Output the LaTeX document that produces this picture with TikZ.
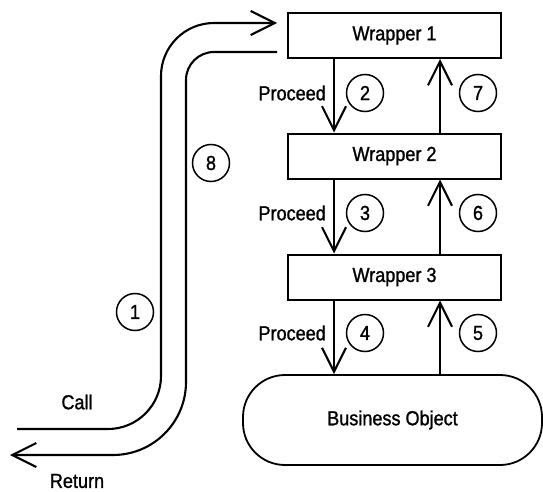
\documentclass[tikz,border=0pt]{standalone}
\usepackage{fontspec}
\setmainfont[FakeStretch=0.89,FakeBold=1.2]{Liberation Sans}
\usetikzlibrary{arrows.meta}
\begin{document}
\begin{tikzpicture}[x=1pt,y=-1pt,
  every node/.style={font=\fontsize{20.3}{23}\selectfont},
  wbox/.style={draw, line width=2pt, minimum width=213pt, minimum height=45pt, inner sep=0pt},
  bobox/.style={draw, line width=1.8pt, rounded corners=42pt, minimum width=299pt, minimum height=90pt, inner sep=0pt},
  num/.style={draw, circle, line width=1.5pt, minimum size=37pt, inner sep=0pt},
  arr/.style={line width=2.1pt, -{Straight Barb[length=24pt,width=24pt,line width=2.1pt]}},
  lbl/.style={inner sep=0pt}
]
\useasboundingbox (0,0) rectangle (543,492);

\node[wbox] (w1) at (394.5,35.5) {Wrapper 1};
\node[wbox] (w2) at (394.5,156) {Wrapper 2};
\node[wbox] (w3) at (394.5,277) {Wrapper 3};
\node[bobox] (bo) at (392.5,420) {Business Object};

% down arrows (Proceed)
\draw[arr] ([xshift=-60.5pt]w1.south) coordinate (d1) -- (d1 |- w2.north);
\draw[arr] ([xshift=-60.5pt]w2.south) coordinate (d2) -- (d2 |- w3.north);
\draw[arr] ([xshift=-60.5pt]w3.south) coordinate (d3) -- (d3 |- bo.north);
% up arrows
\draw[arr] ([xshift=45.5pt]w2.north) coordinate (u2) -- (u2 |- w1.south);
\draw[arr] ([xshift=45.5pt]w3.north) coordinate (u3) -- (u3 |- w2.south);
\path ([xshift=45.5pt]w3.south) coordinate (u4);
\draw[arr] (u4 |- bo.north) -- (u4);

\node[lbl, anchor=east] (p1) at (326,93) {Proceed};
\node[lbl, anchor=east] (p2) at (326,213) {Proceed};
\node[lbl, anchor=east] (p3) at (326,333) {Proceed};

\node[num] (n2) at (365,93) {2};
\node[num] (n7) at (478,93) {7};
\node[num] (n3) at (365,213) {3};
\node[num] (n6) at (478,213) {6};
\node[num] (n4) at (365,333) {4};
\node[num] (n5) at (478,333) {5};
\node[num] (n8) at (211,163) {8};
\node[num] (n1) at (135,312) {1};

% Call path
\coordinate (callstart) at (17,429);
\coordinate (callend) at (277,23);
\draw[arr] (callstart) -- (108,429) arc (90:0:53) -- (161,76) arc (180:270:53) -- (callend);

% Return path
\coordinate (retstart) at (277,52);
\coordinate (retend) at (10,455);
\draw[arr] (retstart) -- (214,52) arc (270:180:28) -- (186,382) arc (0:90:73) -- (retend);

\node[lbl] (call) at (77,402) {Call};
\node[lbl] (ret) at (77,481) {Return};
\end{tikzpicture}
\end{document}
